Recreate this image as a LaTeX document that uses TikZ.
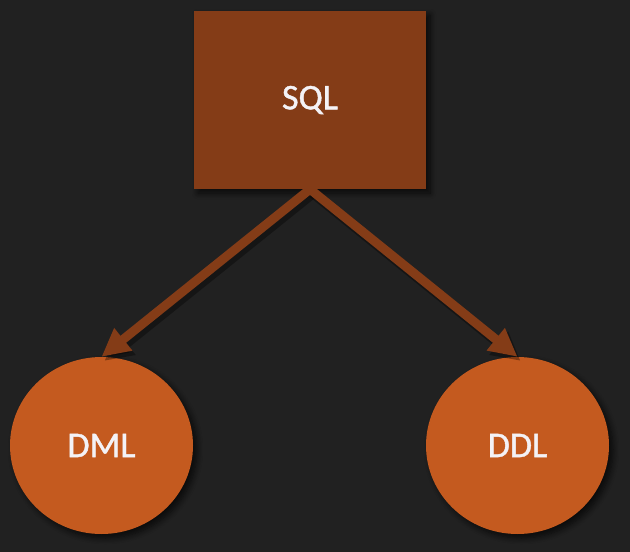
\documentclass[tikz,border=0pt]{standalone}
\usepackage{fontspec}
\setmainfont{Carlito}
\newfontfamily\lblfont[FakeBold=1.2]{Carlito}
\usetikzlibrary{arrows.meta,shadows.blur,shapes.geometric}
\definecolor{bgc}{HTML}{212121}
\definecolor{boxc}{HTML}{843C17}
\definecolor{circc}{HTML}{C45A1F}
\definecolor{txtc}{HTML}{F4F2F6}
\tikzset{
  shd/.style={blur shadow={shadow xshift=4pt,shadow yshift=-4pt,shadow blur radius=6pt,shadow opacity=70,shadow blur steps=8}},
  lbl/.style={text=txtc,font=\lblfont\fontsize{36}{42}\selectfont},
  sqlbox/.style={rectangle,fill=boxc,minimum width=232pt,minimum height=178pt,inner sep=0pt,lbl,shd},
  circbox/.style={ellipse,fill=circc,minimum width=183pt,minimum height=177pt,inner sep=0pt,lbl,shd},
  conn/.style={draw=boxc,line width=9pt,-{Triangle[length=28pt,width=27pt]}},
  connshd/.style={draw=black,opacity=0.35,line width=10pt,-{Triangle[length=28pt,width=28pt]},transform canvas={xshift=3pt,yshift=-4pt}}
}
\begin{document}
\begin{tikzpicture}[x=1pt,y=-1pt]
\fill[bgc] (0,0) rectangle (630,552);
\useasboundingbox (0,0) rectangle (630,552);
\node[sqlbox] (sql) at (310,100) {SQL};
\node[circbox] (dml) at (101.5,445.5) {DML};
\node[circbox] (ddl) at (517.5,445.5) {DDL};
\draw[connshd] (sql.south) -- (dml.north);
\draw[connshd] (sql.south) -- (ddl.north);
\draw[conn] (sql.south) -- (dml.north);
\draw[conn] (sql.south) -- (ddl.north);
\end{tikzpicture}
\end{document}
